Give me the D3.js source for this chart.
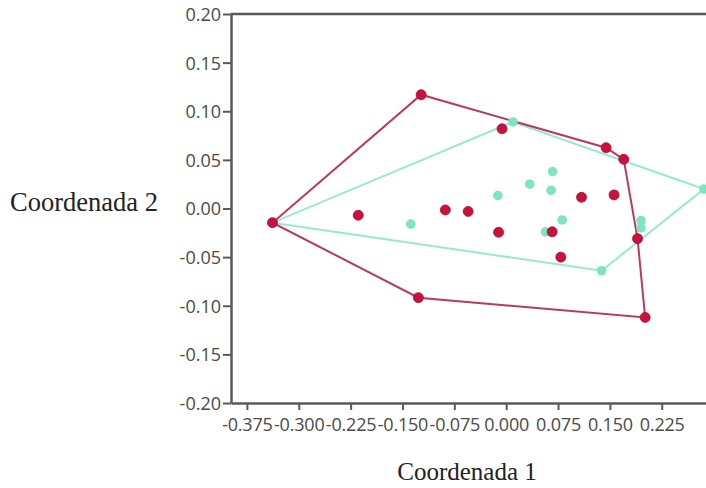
<!DOCTYPE html>
<html><head><meta charset="utf-8">
<script src="https://cdn.jsdelivr.net/npm/d3@7"></script>
<style>
body{margin:0;background:#fff;}
svg{display:block;}
</style></head>
<body>
<svg id="c" width="706" height="488"></svg>
<script>
// Group A (red)
const redX = [-0.338, -0.214, -0.123, -0.127, -0.088, -0.055, -0.006, -0.011, 0.0665, 0.079, 0.109, 0.156, 0.1445, 0.170, 0.190, 0.201];
const redY = [-0.0146, -0.007, 0.117, -0.0917, -0.0015, -0.003, 0.082, -0.0245, -0.024, -0.050, 0.0115, 0.014, 0.0625, 0.0506, -0.031, -0.112];
// Group B (teal)
const tealX = [-0.338, -0.138, -0.012, 0.0097, 0.034, 0.065, 0.067, 0.057, 0.081, 0.138, 0.195, 0.195, 0.286];
const tealY = [-0.0146, -0.016, 0.0132, 0.089, 0.025, 0.0187, 0.038, -0.024, -0.0118, -0.064, -0.0125, -0.020, 0.020];
const xTicks = [-0.375, -0.300, -0.225, -0.150, -0.075, 0.000, 0.075, 0.150, 0.225];
const yTicks = [-0.20, -0.15, -0.10, -0.05, 0.00, 0.05, 0.10, 0.15, 0.20];
const xTitle = "Coordenada 1";
const yTitle = "Coordenada 2";

const svg = d3.select("#c");
const x = d3.scaleLinear().domain([-0.398, 0.289]).range([231, 706]);
const y = d3.scaleLinear().domain([-0.2, 0.2]).range([403, 14]);

const axisColor = "#5a5a5a";
const tickFont = "'Open Sans', 'Noto Sans', sans-serif";
const hy = f => d => f(d).replace("\u2212", "-");

// top frame line
svg.append("line").attr("x1", x.range()[0]).attr("x2", x.range()[1])
  .attr("y1", y(0.2)).attr("y2", y(0.2))
  .attr("stroke", axisColor).attr("stroke-width", 2.5);

const xAxis = svg.append("g").attr("transform", `translate(0,${y(-0.2)})`)
  .call(d3.axisBottom(x).tickValues(xTicks).tickFormat(hy(d3.format(".3f"))).tickSize(7).tickSizeOuter(0));
const yAxis = svg.append("g").attr("transform", `translate(${x(-0.398)},0)`)
  .call(d3.axisLeft(y).tickValues(yTicks).tickFormat(hy(d3.format(".2f"))).tickSize(8).tickSizeOuter(0));

[xAxis, yAxis].forEach(a => {
  a.select(".domain").attr("stroke", axisColor).attr("stroke-width", 2.5);
  a.selectAll(".tick line").attr("stroke", axisColor).attr("stroke-width", 2);
  a.selectAll(".tick text").attr("fill", "#4a4a4a").style("font-family", tickFont)
    .style("font-size", "18px");
});
xAxis.selectAll(".tick text").attr("y", 15).attr("letter-spacing", "-0.2px");
yAxis.selectAll(".tick text").attr("x", -10).attr("dy", "0.36em");

// data
const redPts = redX.map((v, i) => [x(v), y(redY[i])]);
const tealPts = tealX.map((v, i) => [x(v), y(tealY[i])]);

const redHull = d3.polygonHull(redPts);
const tealHull = d3.polygonHull(tealPts);

const lineGen = d3.line().curve(d3.curveLinearClosed);

svg.append("path").attr("d", lineGen(tealHull)).attr("fill", "none")
  .attr("stroke", "#97e9d2").attr("stroke-width", 2);
svg.append("path").attr("d", lineGen(redHull)).attr("fill", "none")
  .attr("stroke", "#bb3a5c").attr("stroke-width", 2);

svg.append("g").selectAll("circle").data(tealPts).join("circle")
  .attr("cx", d => d[0]).attr("cy", d => d[1]).attr("r", 4.8)
  .attr("fill", "#7fe3c6");
svg.append("g").selectAll("circle").data(redPts).join("circle")
  .attr("cx", d => d[0]).attr("cy", d => d[1]).attr("r", 5)
  .attr("fill", "#c8113c").attr("stroke", "#a80f33").attr("stroke-width", 0.8);

// titles
svg.append("text").attr("x", 10).attr("y", 211).text(yTitle)
  .style("font-family", "'Liberation Serif', 'Times New Roman', serif")
  .style("font-size", "26.5px").attr("fill", "#222");
svg.append("text").attr("x", 467).attr("y", 480).attr("text-anchor", "middle").text(xTitle)
  .style("font-family", "'Liberation Serif', 'Times New Roman', serif")
  .style("font-size", "25px").attr("fill", "#222");
</script>
</body></html>
